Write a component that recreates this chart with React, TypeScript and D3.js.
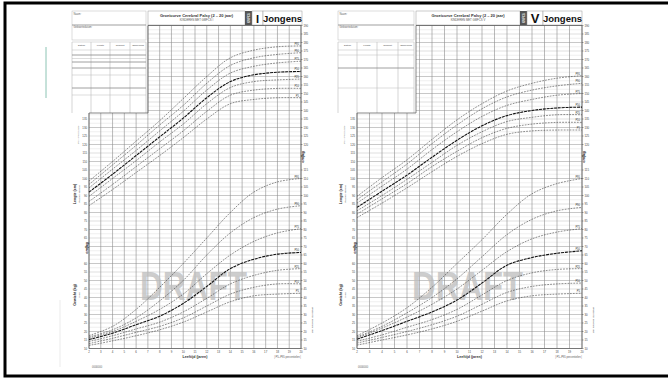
import React from "react";
import * as d3 from "d3";

const FONT = "Liberation Sans, Arial, sans-serif";

// ages at which percentile values were read (years)
const ages = [2, 4, 6, 8, 10, 12, 14, 16, 18, 20];
const ageTicks = [2, 3, 4, 5, 6, 7, 8, 9, 10, 11, 12, 13, 14, 15, 16, 17, 18, 19, 20];
const percentileNames = ["P5", "P10", "P25", "P50", "P75", "P90", "P95"];

// Level I boys – height (cm)
const hI_P5 = [84, 93.5, 103.5, 113.5, 124, 135, 144, 146.5, 147.5, 147.5];
const hI_P10 = [86.5, 96.5, 107, 117.5, 128, 139.5, 149, 152, 153, 153];
const hI_P25 = [89.5, 100, 110.5, 121.5, 132, 144, 153.5, 157, 158, 158.5];
const hI_P50 = [92, 102.5, 113.5, 124.5, 135.5, 147.5, 157, 161, 162.5, 163];
const hI_P75 = [94.5, 105.5, 116.5, 128, 139.5, 152, 162, 166, 168, 169];
const hI_P90 = [96.5, 108, 119.5, 131.5, 143, 156, 166.5, 171, 173, 174];
const hI_P95 = [98.5, 110, 122, 134, 147, 160, 171, 175.5, 177.5, 178];

// Level I boys – weight (kg)
const wI_P5 = [11.8, 14.5, 17.5, 21, 25.5, 31.5, 37.5, 41, 42, 42.5];
const wI_P10 = [12.9, 16, 19.5, 23, 28, 35, 42, 46, 48, 48];
const wI_P25 = [14.1, 17.5, 21.5, 25.5, 31.5, 39.5, 48, 53, 56, 57];
const wI_P50 = [15.3, 19, 24, 29, 36.5, 46.5, 57, 62.5, 65.5, 66.5];
const wI_P75 = [16.2, 20, 26, 33, 42, 54, 65, 73, 78, 80.5];
const wI_P90 = [16.8, 21, 28, 38, 50, 65, 78, 87, 92, 94];
const wI_P95 = [17.6, 23, 33, 46, 60, 75, 90, 102, 108, 110];

// Level V boys – height (cm)
const hV_P5 = [77, 85.5, 94.5, 104, 113, 120.5, 126, 128, 128.5, 128.5];
const hV_P10 = [79, 88, 97, 107, 116, 124, 129.5, 132, 133, 133];
const hV_P25 = [81, 90, 99.5, 109.5, 119.5, 127.5, 133.5, 136, 137.5, 137.5];
const hV_P50 = [83, 92.5, 102, 112.5, 122.5, 131, 137, 140, 141.5, 142];
const hV_P75 = [85.5, 95.5, 105.5, 117, 127.5, 136.5, 143, 146.5, 149, 150];
const hV_P90 = [87.5, 98, 108.5, 120.5, 131.5, 141, 148, 152, 154.5, 156];
const hV_P95 = [89.5, 100.5, 111, 123, 134.5, 144, 151.5, 156, 159, 160.5];

// Level V boys – weight (kg)
const wV_P5 = [12, 15, 18, 21.5, 26, 32, 38, 41, 42, 42.5];
const wV_P10 = [13.2, 16.5, 20, 24, 29, 36, 43, 46.5, 48, 48.5];
const wV_P25 = [14.3, 18, 22.5, 27, 33, 41.5, 50, 54.5, 56.5, 57];
const wV_P50 = [15.5, 20.5, 26, 31.5, 38.5, 48.5, 59, 63.5, 66, 67.5];
const wV_P75 = [16.2, 22, 28.5, 36, 45, 56, 67, 74.5, 78.5, 80.5];
const wV_P90 = [16.8, 23, 31, 40, 51, 64, 77, 86, 91, 93];
const wV_P95 = [17.5, 25, 34, 46, 60, 74, 89, 101, 107, 110];

// axis tick labels
const heightTicksRight = [190, 185, 180, 175, 170, 165, 160, 155, 150, 145, 140, 135, 130, 125, 120];
const weightTicksRight = [115, 110, 105, 100, 95, 90, 85, 80, 75, 70, 65, 60, 55, 50, 45, 40, 35, 30, 25, 20, 15, 10];
const heightTicksLeft = [135, 130, 125, 120, 115, 110, 105, 100, 95, 90, 85, 80, 75, 70, 65];
const weightTicksLeft = [60, 55, 50, 45, 40, 35, 30, 25, 20, 15, 10];

const tableHeaders = ["Datum", "Lengte", "Gewicht", "Opmerking"];

// vertical layout shared by both sheets
const GRID_TOP = 25.5;
const GRID_BOTTOM = 348.5;
const TABLE_BOTTOM = 113;
const yH = d3.scaleLinear().domain([190, 0]).range([GRID_TOP, GRID_BOTTOM]);
const yW = d3.scaleLinear().domain([10, 200]).range([GRID_BOTTOM, GRID_TOP]);

type PageProps = {
  px0: number; px1: number; upperLeft: number;
  infoX0: number; titleX1: number; darkX1: number; numX1: number; boxX1: number;
  numeral: string; numeralSize: number; level: string;
  heights: number[][]; weights: number[][];
  draftX0: number; draftX1: number;
  tableCols: number[]; tableRows: number[]; thickRows: number[];
  titleX: number; rightTitleX: number;
};

function Page(p: PageProps) {
  const x = d3.scaleLinear().domain([2, 20]).range([p.px0, p.px1]);
  const hLines = d3.range(0, 190.01, 2.5);
  const smooth = d3.curveCatmullRom.alpha(0.5);
  const lineH = d3.line<number>().x((_, i) => x(ages[i])).y((d) => yH(d)).curve(smooth);
  const lineW = d3.line<number>().x((_, i) => x(ages[i])).y((d) => yW(d)).curve(smooth);
  const infoX1 = p.upperLeft - 2;
  const midX = (p.px0 + p.px1) / 2;

  const curveStyle = (i: number) =>
    i === 3
      ? { stroke: "#111", strokeWidth: 1.1, strokeDasharray: "3 0.8" }
      : { stroke: "#333", strokeWidth: 0.55, strokeDasharray: "1.8 1.1" };

  return (
    <g fontFamily={FONT}>
      {/* info boxes */}
      <rect x={p.infoX0} y={11} width={infoX1 - p.infoX0} height={29} fill="none" stroke="#bbb" strokeWidth={0.5} />
      <line x1={p.infoX0} x2={infoX1} y1={25} y2={25} stroke="#777" strokeWidth={0.7} />
      <text x={p.infoX0 + 1.5} y={14.5} fontSize={2.6} fill="#666">Naam:</text>
      <text x={p.infoX0 + 1.5} y={28} fontSize={2.6} fill="#666">Geboortedatum:</text>
      {/* table */}
      {p.tableCols.map((c, i) => (
        <line key={"tc" + i} x1={c} x2={c} y1={42} y2={TABLE_BOTTOM} stroke="#aaa" strokeWidth={0.5} />
      ))}
      {p.tableRows.map((r, i) => (
        <line key={"tr" + i} x1={p.infoX0} x2={infoX1} y1={r} y2={r}
          stroke={p.thickRows.includes(r) ? "#888" : "#bbb"} strokeWidth={p.thickRows.includes(r) ? 0.8 : 0.5} />
      ))}
      {tableHeaders.map((t, i) => (
        <text key={"th" + i} x={(p.tableCols[i] + p.tableCols[i + 1]) / 2} y={45.5} fontSize={2.4}
          textAnchor="middle" fill="#444">{t}</text>
      ))}

      {/* title boxes */}
      <rect x={p.upperLeft} y={11} width={p.titleX1 - p.upperLeft} height={14} fill="#fff" stroke="#999" strokeWidth={0.5} />
      <text x={(p.upperLeft + p.titleX1) / 2} y={16.5} fontSize={4} fontWeight="bold" textAnchor="middle" fill="#333">
        Groeicurve Cerebral Palsy (2 – 20 jaar)
      </text>
      <text x={(p.upperLeft + p.titleX1) / 2} y={20.5} fontSize={2.8} textAnchor="middle" fill="#555">
        {"KINDEREN MET GMFCS " + p.level}
      </text>
      <rect x={p.titleX1} y={11} width={p.darkX1 - p.titleX1} height={14} fill="#555" />
      <text transform={`translate(${(p.titleX1 + p.darkX1) / 2 + 1},18) rotate(-90)`} fontSize={2.6}
        textAnchor="middle" fill="#fff" fontWeight="bold">GMFCS</text>
      <rect x={p.darkX1} y={11} width={p.numX1 - p.darkX1} height={14} fill="#fff" stroke="#999" strokeWidth={0.5} />
      <text x={(p.darkX1 + p.numX1) / 2} y={22.5} fontSize={p.numeralSize} fontWeight="bold" textAnchor="middle" fill="#111">
        {p.numeral}
      </text>
      <rect x={p.numX1} y={11} width={p.boxX1 - p.numX1} height={14} fill="#fff" stroke="#999" strokeWidth={0.5} />
      <text x={(p.numX1 + p.boxX1) / 2} y={21.5} fontSize={9.5} fontWeight="bold" textAnchor="middle" fill="#111">
        Jongens
      </text>

      {/* grid */}
      {hLines.map((v, i) => {
        const y = yH(v);
        const major10 = Math.abs(v % 10) < 0.01;
        const major5 = Math.abs(v % 5) < 0.01;
        return (
          <line key={"h" + i} x1={y < TABLE_BOTTOM ? p.upperLeft : p.px0} x2={p.px1} y1={y} y2={y}
            stroke={major10 ? "#9a9a9a" : major5 ? "#b8b8b8" : "#dcdcdc"}
            strokeWidth={major10 ? 0.55 : 0.45} />
        );
      })}
      {ageTicks.map((a, i) => {
        const xx = x(a);
        return (
          <line key={"v" + i} x1={xx} x2={xx} y1={xx >= p.upperLeft - 0.5 ? GRID_TOP : TABLE_BOTTOM} y2={GRID_BOTTOM}
            stroke="#8c8c8c" strokeWidth={0.6} />
        );
      })}
      <path d={`M${p.upperLeft},${GRID_TOP}H${p.px1}V${GRID_BOTTOM}H${p.px0}V${TABLE_BOTTOM}H${p.upperLeft}Z`}
        fill="none" stroke="#555" strokeWidth={0.7} />

      {/* axes labels */}
      {ageTicks.map((a) => (
        <text key={"xa" + a} x={x(a)} y={352.5} fontSize={2.8} textAnchor="middle" fill="#444">{a}</text>
      ))}
      {heightTicksRight.map((v) => (
        <g key={"hr" + v}>
          <line x1={p.px1} x2={p.px1 + 1.5} y1={yH(v)} y2={yH(v)} stroke="#444" strokeWidth={0.5} />
          <text x={p.px1 + 2.5} y={yH(v) + 1} fontSize={2.8} fill="#444">{v}</text>
        </g>
      ))}
      {weightTicksRight.map((v) => (
        <g key={"wr" + v}>
          <line x1={p.px1} x2={p.px1 + 1.5} y1={yW(v)} y2={yW(v)} stroke="#444" strokeWidth={0.5} />
          <text x={p.px1 + 2.5} y={yW(v) + 1} fontSize={2.8} fill="#444">{v}</text>
        </g>
      ))}
      {heightTicksLeft.map((v) => (
        <text key={"hl" + v} x={p.px0 - 2} y={yH(v) + 1} fontSize={2.8} textAnchor="end" fill="#444">{v}</text>
      ))}
      {weightTicksLeft.map((v) => (
        <text key={"wl" + v} x={p.px0 - 2} y={yW(v) + 1} fontSize={2.8} textAnchor="end" fill="#444">{v}</text>
      ))}
      {/* unit markers */}
      <text transform={`translate(${p.px1 + 3},157) rotate(-90)`} fontSize={4} fontWeight="bold" textAnchor="middle" fill="#111">cm|kg</text>
      <text transform={`translate(${p.px0 - 1},248) rotate(-90)`} fontSize={4} fontWeight="bold" textAnchor="middle" fill="#111">cm|kg</text>

      {/* rotated titles */}
      <text transform={`translate(${p.titleX},194) rotate(-90)`} fontSize={3.6} fontWeight="bold" textAnchor="middle" fill="#222">Lengte (cm)</text>
      <text transform={`translate(${p.titleX + 4},194) rotate(-90)`} fontSize={2.5} textAnchor="middle" fill="#555">staand / liggend</text>
      <text transform={`translate(${p.titleX + 3},135) rotate(-90)`} fontSize={2.5} textAnchor="middle" fill="#666">(P5 – P95 in cm)</text>
      <text transform={`translate(${p.titleX},295) rotate(-90)`} fontSize={3.6} fontWeight="bold" textAnchor="middle" fill="#222">Gewicht (kg)</text>
      <text transform={`translate(${p.titleX + 4},295) rotate(-90)`} fontSize={2.5} textAnchor="middle" fill="#555">in kg</text>
      <text transform={`translate(${p.rightTitleX},320) rotate(90)`} fontSize={2.5} textAnchor="middle" fill="#555">gewicht in kilogram (kg)</text>

      {/* DRAFT watermark */}
      <text x={p.draftX0} y={300} fontSize={40} fontWeight="bold" fill="#bdbdbd" fillOpacity={0.75}
        textLength={p.draftX1 - p.draftX0} lengthAdjust="spacingAndGlyphs">DRAFT</text>

      {/* curves */}
      {p.heights.map((s, i) => (
        <path key={"hc" + i} d={lineH(s) || ""} fill="none" {...curveStyle(i)} />
      ))}
      {p.weights.map((s, i) => (
        <path key={"wc" + i} d={lineW(s) || ""} fill="none" {...curveStyle(i)} />
      ))}
      {p.heights.map((s, i) => (
        <text key={"hlb" + i} x={x(20) - 2} y={yH(s[s.length - 1]) - 1} fontSize={2.6} textAnchor="end" fill="#333">
          {percentileNames[i]}
        </text>
      ))}
      {p.weights.map((s, i) => (
        <text key={"wlb" + i} x={x(20) - 2} y={yW(s[s.length - 1]) - 1} fontSize={2.6} textAnchor="end" fill="#333">
          {percentileNames[i]}
        </text>
      ))}

      {/* footer */}
      <text x={midX} y={358} fontSize={3.6} fontWeight="bold" textAnchor="middle" fill="#333">Leeftijd (jaren)</text>
      <text x={p.px1} y={358} fontSize={2.6} textAnchor="end" fill="#555">| P5–P95 percentielen |</text>
      <text x={p.infoX0 + 20} y={368} fontSize={2.6} fill="#666">0000000</text>
    </g>
  );
}

export default function App() {
  return (
    <svg width={668} height={378} style={{ position: "absolute", left: 0, top: 0, background: "#fff" }}>
      <rect x={0} y={0} width={668} height={378} fill="#fff" />
      <rect x={5} y={3} width={720} height={373} fill="none" stroke="#000" strokeWidth={3} />
      <line x1={46} x2={46} y1={47} y2={98} stroke="#8cc4b4" strokeWidth={1} />
      <line x1={60} x2={60} y1={300} y2={367} stroke="#ddd" strokeWidth={0.6} />
      <Page px0={89} px1={301} upperLeft={148} infoX0={72} titleX1={245} darkX1={252} numX1={263} boxX1={302}
        numeral="I" numeralSize={11} level="I"
        heights={[hI_P5, hI_P10, hI_P25, hI_P50, hI_P75, hI_P90, hI_P95]}
        weights={[wI_P5, wI_P10, wI_P25, wI_P50, wI_P75, wI_P90, wI_P95]}
        draftX0={140} draftX1={247}
        tableCols={[72, 91, 110, 130, 146]} tableRows={[42, 50, 55, 58.5, 62, 68, 75, 88, 95]} thickRows={[55, 62, 68, 88]}
        titleX={76} rightTitleX={312} />
      <Page px0={357} px1={582} upperLeft={416} infoX0={338} titleX1={520} darkX1={527} numX1={543} boxX1={582}
        numeral="V" numeralSize={13} level="V"
        heights={[hV_P5, hV_P10, hV_P25, hV_P50, hV_P75, hV_P90, hV_P95]}
        weights={[wV_P5, wV_P10, wV_P25, wV_P50, wV_P75, wV_P90, wV_P95]}
        draftX0={412} draftX1={523}
        tableCols={[338, 357, 377, 398, 414]} tableRows={[42, 50, 55, 68, 88]} thickRows={[68]}
        titleX={342} rightTitleX={593} />
    </svg>
  );
}
